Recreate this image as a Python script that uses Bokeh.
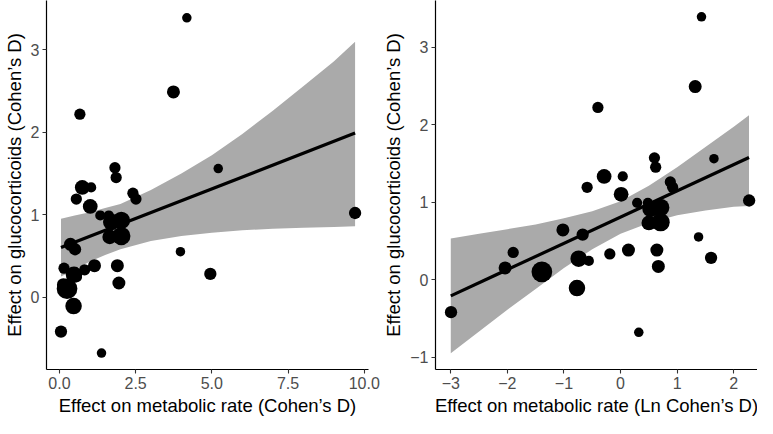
import numpy as np
from bokeh.plotting import figure
from bokeh.layouts import row
from bokeh.models import Range1d, FixedTicker, ColumnDataSource
from bokeh.embed import file_html
from bokeh.resources import INLINE

# ---- data ----
# effect on metabolic rate (Cohen's D), effect on glucocorticoids (Cohen's D), relative weight
metabolic_d = [4.18, 3.74, 0.67, 1.82, 1.86, 5.21, 0.748, 1.04, 0.554, 1.01,
               2.41, 2.51, 1.34, 1.62, 9.70, 1.70, 2.03, 1.65, 2.03, 0.361,
               0.512, 3.97, 0.150, 0.130, 0.249, 0.477, 0.571, 0.827, 1.15, 1.90,
               1.95, 4.95, 0.463, 0.050, 1.38]
gluco_d = [3.39, 2.49, 2.22, 1.57, 1.45, 1.56, 1.33, 1.33, 1.19, 1.10,
           1.26, 1.19, 0.99, 0.99, 1.02, 0.91, 0.93, 0.73, 0.74, 0.64,
           0.58, 0.55, 0.35, 0.15, 0.10, 0.27, 0.24, 0.33, 0.38, 0.38,
           0.17, 0.28, -0.11, -0.42, -0.68]
weight = [1.0, 2.0, 1.5, 1.5, 1.5, 1.0, 2.5, 1.2, 1.5, 2.5,
          1.5, 1.5, 1.2, 1.2, 1.8, 3.0, 3.3, 2.5, 3.5, 2.0,
          1.8, 1.0, 1.5, 2.0, 4.2, 3.0, 1.2, 1.5, 2.0, 2.0,
          2.0, 1.8, 3.0, 1.8, 1.0]

# fitted lines (endpoints) and confidence bands
left_fit_x = [0.05, 9.70]
left_fit_y = [0.60, 1.99]
left_band_x = [0.05, 0.5, 1.0, 1.5, 2.0, 3.0, 4.0, 5.0, 6.0, 7.0, 8.0, 9.0, 9.70]
left_band_upper = [0.95, 0.99, 1.03, 1.08, 1.13, 1.30, 1.50, 1.72, 1.98, 2.26, 2.56, 2.86, 3.10]
left_band_lower = [0.25, 0.33, 0.43, 0.51, 0.58, 0.68, 0.74, 0.78, 0.81, 0.83, 0.84, 0.85, 0.86]

right_fit_x = [-3.0, 2.27]
right_fit_y = [-0.21, 1.575]
right_band_x = [-3.0, -2.5, -2.0, -1.5, -1.0, -0.5, 0.0, 0.5, 1.0, 1.5, 2.0, 2.27]
right_band_upper = [0.53, 0.59, 0.65, 0.71, 0.79, 0.88, 1.01, 1.21, 1.45, 1.71, 1.97, 2.12]
right_band_lower = [-0.95, -0.67, -0.39, -0.12, 0.15, 0.39, 0.59, 0.73, 0.83, 0.89, 0.94, 0.95]

left_xticks = [0, 2.5, 5, 7.5, 10]
left_xlabels = ["0.0", "2.5", "5.0", "7.5", "10.0"]
left_yticks = [0, 1, 2, 3]
right_xticks = [-3, -2, -1, 0, 1, 2]
right_xlabels = ["\u22123", "\u22122", "\u22121", "0", "1", "2"]
right_yticks = [-1, 0, 1, 2, 3]
right_ylabels = ["\u22121", "0", "1", "2", "3"]

FONT = "Liberation Sans"
BAND = "#aaaaaa"


def diam(w):
    return [6 + 3.5 * v for v in w]


def style(p, xlabel, ylabel):
    p.xgrid.visible = False
    p.ygrid.visible = False
    p.outline_line_color = None
    p.background_fill_color = "white"
    p.border_fill_color = "white"
    for ax in (p.xaxis[0], p.yaxis[0]):
        ax.axis_line_color = "black"
        ax.axis_line_width = 1.2
        ax.major_tick_line_color = "#333333"
        ax.major_tick_line_width = 1.1
        ax.major_tick_in = 0
        ax.major_tick_out = 4
        ax.minor_tick_line_color = None
        ax.major_label_text_font = FONT
        ax.major_label_text_font_size = "16px"
        ax.major_label_text_color = "#4d4d4d"
        ax.major_label_standoff = 3
        ax.axis_label_text_font = FONT
        ax.axis_label_text_font_size = "18.5px"
        ax.axis_label_text_font_style = "normal"
        ax.axis_label_text_color = "black"
        ax.axis_label_standoff = 3
    p.xaxis[0].axis_label = xlabel
    p.yaxis[0].axis_label = ylabel


# ---- left panel ----
p1 = figure(width=380, height=418, output_backend="svg", toolbar_location=None,
            x_range=Range1d(-0.425, 10.14), y_range=Range1d(-0.88, 3.60),
            min_border_left=5, min_border_right=12, min_border_top=0, min_border_bottom=5)
style(p1, "Effect on metabolic rate (Cohen\u2019s D)", "Effect on glucocorticoids (Cohen\u2019s D)")
p1.xaxis[0].ticker = FixedTicker(ticks=left_xticks)
p1.xaxis[0].major_label_overrides = {float(t): s for t, s in zip(left_xticks, left_xlabels)} | {int(t): s for t, s in zip(left_xticks, left_xlabels) if float(t).is_integer()}
p1.yaxis[0].ticker = FixedTicker(ticks=left_yticks)

p1.varea(x=left_band_x, y1=left_band_lower, y2=left_band_upper, fill_color=BAND, fill_alpha=1.0)
p1.line(x=left_fit_x, y=left_fit_y, line_color="black", line_width=3.2)
src1 = ColumnDataSource(dict(x=metabolic_d, y=gluco_d, s=diam(weight)))
p1.scatter(x="x", y="y", size="s", source=src1, fill_color="black", line_color=None)

# ---- right panel ----
p2 = figure(width=377, height=418, output_backend="svg", toolbar_location=None,
            x_range=Range1d(-3.27, 2.42), y_range=Range1d(-1.16, 3.60),
            min_border_left=54, min_border_right=0, min_border_top=0, min_border_bottom=5)
style(p2, "Effect on metabolic rate (Ln Cohen\u2019s D)", "Effect on glucocorticoids (Cohen\u2019s D)")
p2.xaxis[0].ticker = FixedTicker(ticks=right_xticks)
p2.xaxis[0].major_label_overrides = {t: s for t, s in zip(right_xticks, right_xlabels)}
p2.yaxis[0].ticker = FixedTicker(ticks=right_yticks)
p2.yaxis[0].major_label_overrides = {t: s for t, s in zip(right_yticks, right_ylabels)}

p2.varea(x=right_band_x, y1=right_band_lower, y2=right_band_upper, fill_color=BAND, fill_alpha=1.0)
p2.line(x=right_fit_x, y=right_fit_y, line_color="black", line_width=3.2)
src2 = ColumnDataSource(dict(x=np.log(metabolic_d), y=gluco_d, s=diam(weight)))
p2.scatter(x="x", y="y", size="s", source=src2, fill_color="black", line_color=None)

layout = row(p1, p2, spacing=0)
open("out.html", "w").write(file_html(layout, INLINE))
